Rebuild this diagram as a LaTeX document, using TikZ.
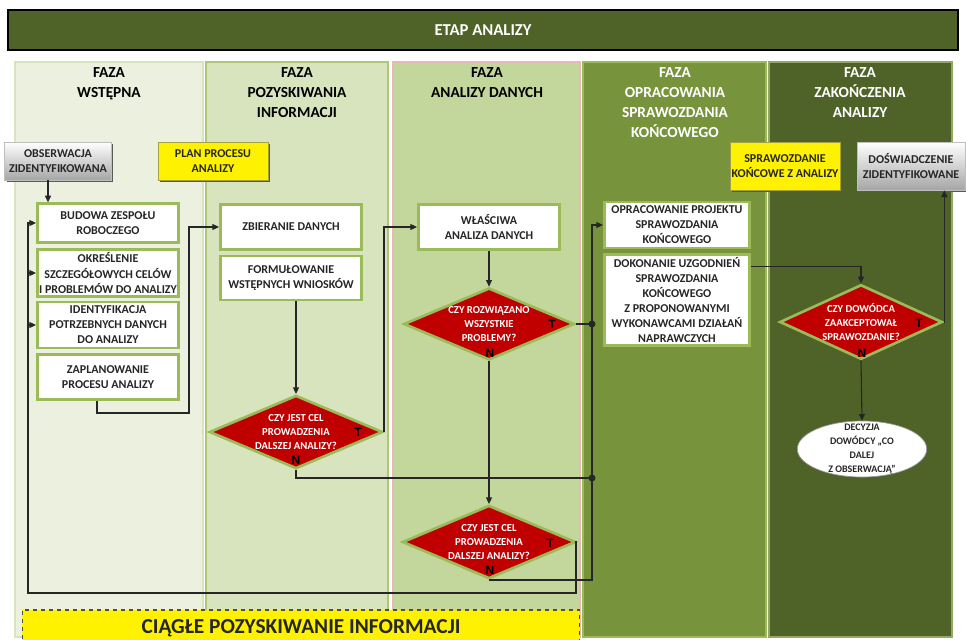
\documentclass[tikz,border=0pt]{standalone}
\usepackage{fontspec}
\setmainfont{Carlito}
\newfontfamily\lblfont{Liberation Sans}
\usetikzlibrary{shapes.geometric,arrows.meta,shadows,calc}

\definecolor{etapgreen}{HTML}{4F6228}
\definecolor{faza1}{HTML}{EBF1DE}
\definecolor{faza2}{HTML}{D7E4BD}
\definecolor{faza3}{HTML}{C3D69B}
\definecolor{faza4}{HTML}{77933C}
\definecolor{faza5}{HTML}{4F6228}
\definecolor{boxgreen}{HTML}{9BBB59}
\definecolor{decred}{HTML}{C00000}
\definecolor{pinkline}{HTML}{E6B9B8}
\definecolor{linegray}{HTML}{262626}

\tikzset{
  fazatext/.style={anchor=north, align=center, inner sep=0pt, font=\fontsize{11.5}{15}\selectfont\bfseries},
  task/.style={draw=boxgreen, line width=2pt, fill=white, align=center, inner sep=1pt, minimum width=106pt, text=linegray, font=\fontsize{9}{11.3}\selectfont\bfseries},
  query/.style={diamond, draw=boxgreen, line width=2pt, fill=decred, text=white, align=center, inner sep=0pt, aspect=2.3, font=\fontsize{8}{10.5}\selectfont\bfseries},
  note/.style={fill=yellow, draw=yellow!60!black, line width=0.5pt, align=center, inner sep=1pt, drop shadow={shadow xshift=1.5pt, shadow yshift=-1.5pt, fill=black!65, opacity=1}, text=linegray, font=\fontsize{9}{11.3}\selectfont\bfseries},
  event/.style={top color=white, bottom color=black!35, draw=black!25, line width=0.5pt, align=center, inner sep=1pt, drop shadow={shadow xshift=1.5pt, shadow yshift=-1.5pt, fill=black!65, opacity=1}, text=linegray, font=\fontsize{9}{11.3}\selectfont\bfseries},
  flow/.style={draw=linegray, line width=0.8pt, -{Triangle[length=5pt,width=4.5pt]}},
  link/.style={draw=linegray, line width=0.8pt},
  tn/.style={inner sep=0pt, text=black, font=\lblfont\fontsize{9}{9}\selectfont\bfseries}
}

\begin{document}
\begin{tikzpicture}[x=0.75pt,y=0.75pt,yscale=-1,xscale=1]
\path[use as bounding box] (0,0) rectangle (966,639);
\clip (0,0) rectangle (966,639);

%Shape: Phase columns
\draw[draw=faza2, line width=1pt, fill=faza1] (15,62) rectangle (203,637);
\draw[draw=boxgreen!70!faza2, line width=1pt, fill=faza2] (206,62) rectangle (388,637);
\draw[draw=pinkline, line width=1pt, fill=faza3] (393,62) rectangle (580,637);
\draw[draw=boxgreen, line width=1pt, fill=faza4] (583,62) rectangle (766,637);
\draw[draw=faza4!80!white, line width=1pt, fill=faza5] (769,62) rectangle (952,637);

% Text Node
\draw (483,30) node [draw=black, line width=1.5pt, fill=etapgreen, text=white, minimum width=712pt, minimum height=30pt, font=\fontsize{12.5}{15}\selectfont\bfseries] (etap) {ETAP ANALIZY};

% Text Node
\draw (109,67) node [fazatext] (hdr1) {FAZA\\WSTĘPNA};
% Text Node
\draw (297,67) node [fazatext] (hdr2) {FAZA\\POZYSKIWANIA\\INFORMACJI};
% Text Node
\draw (487,67) node [fazatext] (hdr3) {FAZA\\ANALIZY DANYCH};
% Text Node
\draw (675,67) node [fazatext, text=white] (hdr4) {FAZA\\OPRACOWANIA\\SPRAWOZDANIA\\KOŃCOWEGO};
% Text Node
\draw (860,67) node [fazatext, text=white] (hdr5) {FAZA\\ZAKOŃCZENIA\\ANALIZY};

% Text Node
\draw (58,161) node [event, minimum width=80pt, minimum height=28.5pt] (obs) {OBSERWACJA\\ZIDENTYFIKOWANA};
% Text Node
\draw (213,161) node [note, minimum width=82.5pt, minimum height=28.5pt] (plan) {PLAN PROCESU\\ANALIZY};
% Text Node
\draw (785,166) node [note, minimum width=82.5pt, minimum height=36pt] (sprawo) {SPRAWOZDANIE\\KOŃCOWE Z ANALIZY};
% Text Node
\draw (911,166) node [event, minimum width=81pt, minimum height=36pt] (dosw) {DOŚWIADCZENIE\\ZIDENTYFIKOWANE};

% Text Node
\draw (108,223) node [task, minimum height=29pt] (budowa) {BUDOWA ZESPOŁU\\ROBOCZEGO};
% Text Node
\draw (108,273) node [task, minimum height=35pt] (okresl) {OKREŚLENIE\\SZCZEGÓŁOWYCH CELÓW\\I PROBLEMÓW DO ANALIZY};
% Text Node
\draw (108,325) node [task, minimum height=34.5pt] (identyf) {IDENTYFIKACJA\\POTRZEBNYCH DANYCH\\DO ANALIZY};
% Text Node
\draw (108,377) node [task, minimum height=34pt] (zaplan) {ZAPLANOWANIE\\PROCESU ANALIZY};

% Text Node
\draw (291,227) node [task, minimum height=34pt] (zbier) {ZBIERANIE DANYCH};
% Text Node
\draw (291,278) node [task, minimum height=33pt] (formul) {FORMUŁOWANIE\\WSTĘPNYCH WNIOSKÓW};
% Text Node
\draw (296,432) node [query, minimum width=130pt, minimum height=55pt] (q1) {CZY JEST CEL\\PROWADZENIA\\DALSZEJ ANALIZY?};

% Text Node
\draw (489,227) node [task, minimum height=34pt] (wlasc) {WŁAŚCIWA\\ANALIZA DANYCH};
% Text Node
\draw (489,324) node [query, minimum width=128pt, minimum height=54pt] (q2) {CZY ROZWIĄZANO\\WSZYSTKIE\\PROBLEMY?};
% Text Node
\draw (489,542) node [query, minimum width=130pt, minimum height=55pt] (q3) {CZY JEST CEL\\PROWADZENIA\\DALSZEJ ANALIZY?};

% Text Node
\draw (677,225) node [task, minimum width=109pt, minimum height=34.5pt] (projekt) {OPRACOWANIE PROJEKTU\\SPRAWOZDANIA\\KOŃCOWEGO};
% Text Node
\draw (677,300) node [task, minimum width=109pt, minimum height=68pt] (uzgod) {DOKONANIE UZGODNIEŃ\\SPRAWOZDANIA\\KOŃCOWEGO\\Z PROPONOWANYMI\\WYKONAWCAMI DZIAŁAŃ\\NAPRAWCZYCH};

% Text Node
\draw (861,322) node [query, minimum width=121.5pt, minimum height=56pt] (q4) {CZY DOWÓDCA\\ZAAKCEPTOWAŁ\\SPRAWOZDANIE?};
% Text Node
\draw (862,449) node [ellipse, draw=black!40, line width=0.5pt, fill=white, align=center, inner xsep=0pt, inner ysep=-7pt, minimum width=97pt, minimum height=42pt, text=linegray, font=\fontsize{7.5}{10.3}\selectfont\bfseries] (decyzja) {DECYZJA\\DOWÓDCY „CO\\DALEJ\\Z OBSERWACJĄ”};

% Text Node
\draw (301,628) node [fill=yellow, draw=black!70, dashed, line width=0.8pt, minimum width=418pt, minimum height=27pt, text=linegray, font=\fontsize{16}{18}\selectfont\bfseries] (ciagle) {CIĄGŁE POZYSKIWANIE INFORMACJI};

% T / N labels
\draw (358,432) node [tn] (q1t) {T};
\draw (296,460) node [tn] (q1n) {N};
\draw (552,324) node [tn] (q2t) {T};
\draw (490,353) node [tn] (q2n) {N};
\draw (550,543) node [tn] (q3t) {T};
\draw (490,570) node [tn] (q3n) {N};
\draw (919,323) node [tn] (q4t) {T};
\draw (862,353) node [tn] (q4n) {N};

% Connector points
\coordinate (obsout) at ($(obs.south)+(-10,0)$);
\coordinate (zplout) at ($(zaplan.south)+(-11,0)$);
\coordinate (zturn) at (189,413);
\coordinate (loopR) at (576,593);
\coordinate (loopL) at (28,593);
\coordinate (jt) at (592,324);
\coordinate (jn) at (592,478);
\coordinate (jb) at (592,580);
\coordinate (uzout) at ($(uzgod.north east)+(0,13)$);
\coordinate (dosin) at ($(dosw.south east)+(-21,0)$);

%Straight Lines
\draw[flow] (obsout) -- (obsout |- budowa.north);
\draw[flow] (q3.east) -| (loopR) -- (loopL) |- (budowa.west);
\draw[flow] (loopL |- okresl.west) -- (okresl.west);
\draw[flow] (loopL |- identyf.west) -- (identyf.west);
\draw[flow] (zplout) |- (zturn) |- (zbier.west);
\draw[flow] (formul.south -| q1.north) -- (q1.north);
\draw[flow] (q1.east) |- (wlasc.west);
\draw[link] (q1.south) |- (jn);
\draw[flow] (wlasc.south) -- (q2.north);
\draw[link] (q2.east) -- (jt);
\draw[flow] (q2.south) -- (q3.north);
\draw[flow] (q3.south) |- (jb) |- (projekt.west);
\fill[linegray] (jt) circle (3.5);
\fill[linegray] (jn) circle (3.5);
\draw[flow] (uzout) -| (q4.north);
\draw[flow] (q4.east) -| (dosin);
\draw[flow] (q4.south) -- (decyzja.north);

\end{tikzpicture}
\end{document}
